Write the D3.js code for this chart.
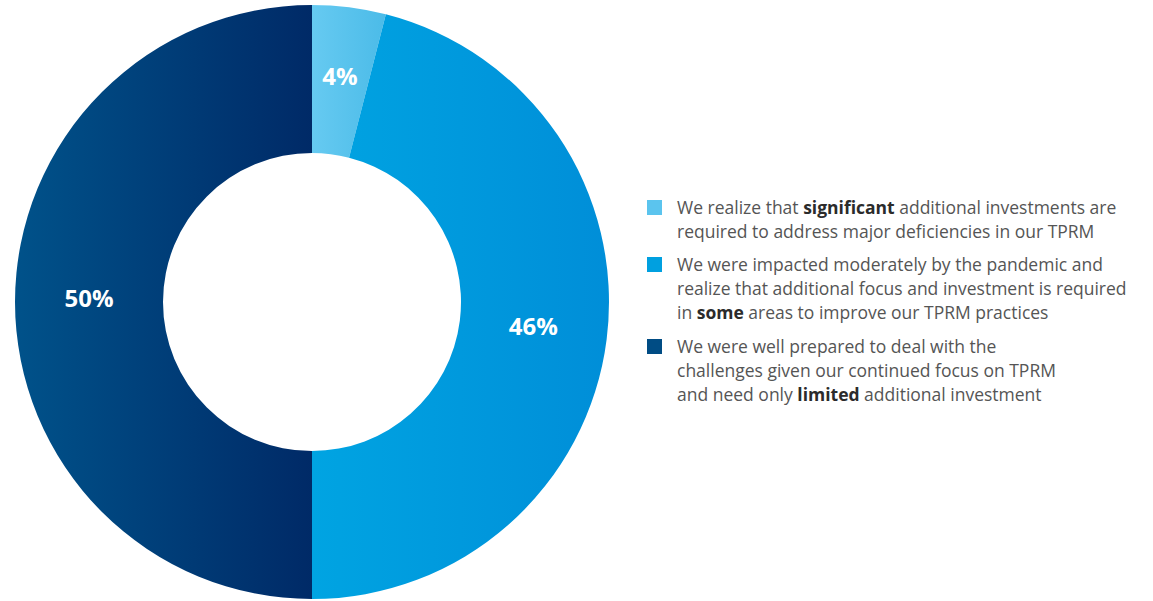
<!DOCTYPE html>
<html>
<head>
<meta charset="utf-8">
<script src="https://cdn.jsdelivr.net/npm/d3@7"></script>
<style>
  html, body { margin: 0; padding: 0; background: #fff; }
  svg { display: block; }
</style>
</head>
<body>
<svg id="chart" width="1153" height="601"></svg>
<script>
// Survey response shares (percent)
const categories = ["significant", "some", "limited"];
const values = [4, 46, 50];
const labels = ["4%", "46%", "50%"];

// Gradient stops per slice: [left, right]
const gradients = [
  ["#66caf1", "#4bbbe8"],
  ["#00a4e2", "#008ed8"],
  ["#00528a", "#002a67"]
];

// Legend text, split into lines of runs; bold runs flagged
const legendLines = [
  [[["We realize that ", false], ["significant", true], [" additional investments are", false]],
   [["required to address major deficiencies in our TPRM", false]]],
  [[["We were impacted moderately by the pandemic and", false]],
   [["realize that additional focus and investment is required", false]],
   [["in ", false], ["some", true], [" areas to improve our TPRM practices", false]]],
  [[["We were well prepared to deal with the", false]],
   [["challenges given our continued focus on TPRM", false]],
   [["and need only ", false], ["limited", true], [" additional investment", false]]]
];
const legendSwatch = ["#5bc4ee", "#00a0e0", "#004c84"];

const svg = d3.select("#chart");
const cx = 312, cy = 302, outerR = 297, innerR = 149;

const defs = svg.append("defs");
gradients.forEach((g, i) => {
  const lg = defs.append("linearGradient")
    .attr("id", "grad" + i)
    .attr("x1", "0%").attr("y1", "0%").attr("x2", "100%").attr("y2", "0%");
  lg.append("stop").attr("offset", "0%").attr("stop-color", g[0]);
  lg.append("stop").attr("offset", "100%").attr("stop-color", g[1]);
});

const pie = d3.pie().sort(null).value(d => d);
const arcs = pie(values);
const arc = d3.arc().innerRadius(innerR).outerRadius(outerR);
const midR = (innerR + outerR) / 2;
const labelArc = d3.arc().innerRadius(midR).outerRadius(midR);

const g = svg.append("g").attr("transform", `translate(${cx},${cy})`);
g.selectAll("path.slice")
  .data(arcs)
  .join("path")
  .attr("class", "slice")
  .attr("d", arc)
  .attr("fill", (d, i) => `url(#grad${i})`);

g.selectAll("text.pct")
  .data(arcs)
  .join("text")
  .attr("class", "pct")
  .attr("transform", d => {
    const [x, y] = labelArc.centroid(d);
    return `translate(${x},${y - 4})`;
  })
  .attr("text-anchor", "middle")
  .attr("dy", "0.36em")
  .attr("fill", "#fff")
  .attr("font-family", "'Open Sans', sans-serif")
  .attr("font-weight", 700)
  .attr("font-size", 24)
  .text((d, i) => labels[i]);

// Legend
const legendX = 647, textX = 677;
const itemTops = [200, 257, 339];
const lineH = 24;
const leg = svg.append("g");
legendLines.forEach((lines, i) => {
  leg.append("rect")
    .attr("x", legendX).attr("y", itemTops[i])
    .attr("width", 15).attr("height", 15)
    .attr("fill", legendSwatch[i]);
  lines.forEach((runs, j) => {
    const t = leg.append("text")
      .attr("x", textX)
      .attr("y", itemTops[i] + 14 + j * lineH)
      .attr("font-family", "'Open Sans', sans-serif")
      .attr("font-size", 17.5)
      .attr("fill", "#555");
    runs.forEach(([s, b]) => {
      t.append("tspan")
        .attr("font-weight", b ? 700 : 400)
        .attr("fill", b ? "#2b2b2b" : "#555")
        .text(s);
    });
  });
});
</script>
</body>
</html>
